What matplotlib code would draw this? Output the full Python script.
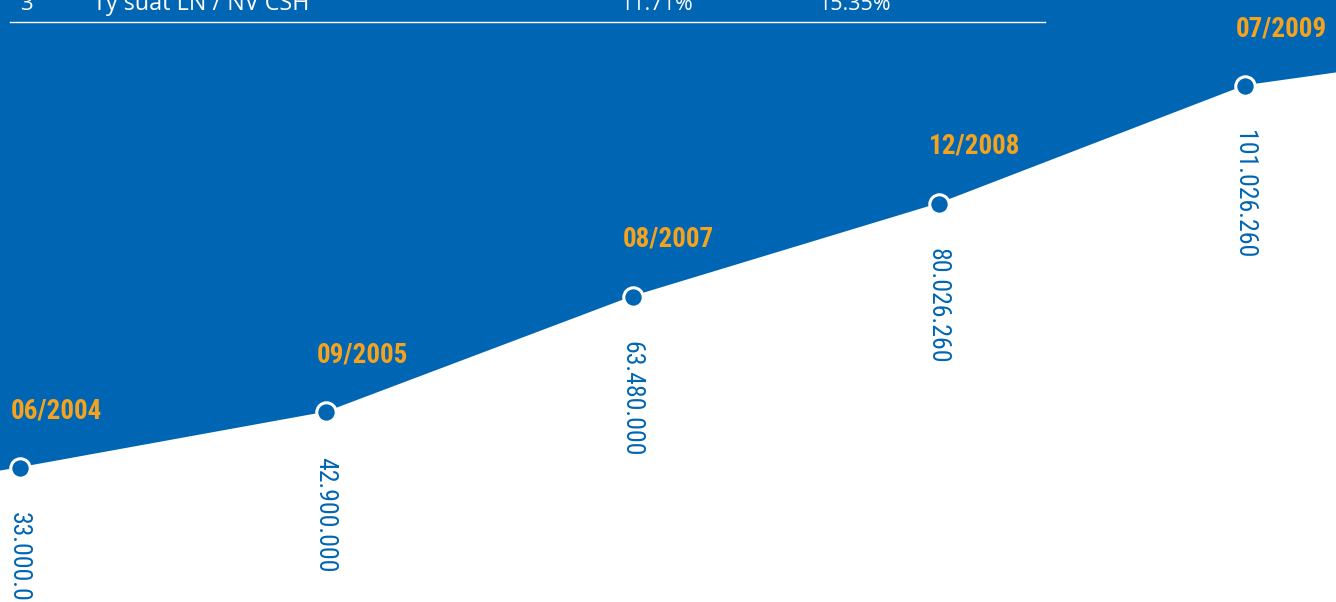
import matplotlib
matplotlib.use("Agg")
import matplotlib.pyplot as plt
from matplotlib import font_manager

# Charter capital milestones (VND)
dates = ["06/2004", "09/2005", "08/2007", "12/2008", "07/2009"]
capital = [33000000, 42900000, 63480000, 80026260, 101026260]
# where the line runs off the left and right edges
edge_values = (32400000, 103300000)

# last row of the table above the chart
table_row = ["3", "Tỷ suất LN / NV CSH", "11.71%", "15.35%"]

BLUE = "#0066B3"
ORANGE = "#F5A31E"

names = {f.name for f in font_manager.fontManager.ttflist}
narrow = next((n for n in ["Roboto Condensed", "Liberation Sans Narrow", "Open Sans Condensed"]
               if n in names), "Liberation Sans")

W, H = 1336, 602
fig = plt.figure(figsize=(W / 100, H / 100), dpi=100)
ax = fig.add_axes([0, 0, 1, 1])
ax.set_axis_off()

x = list(range(len(capital)))
x0, x1 = -0.0653, 4.297
ax.set_xlim(x0, x1)
ax.set_ylim(9.14e6, 116.35e6)

line_x = [x0] + x + [x1]
line_y = [edge_values[0]] + capital + [edge_values[1]]
ax.fill_between(line_x, line_y, 200e6, color=BLUE, lw=0, zorder=1)
ax.plot(line_x, line_y, color="white", lw=1.2, zorder=2)
ax.plot(x, capital, "o", ms=14, mfc=BLUE, mec="white", mew=2.2, zorder=3)

for xi, v, d in zip(x, capital, dates):
    ax.annotate(d, (xi, v), xytext=(-7, 36), textcoords="offset points",
                ha="left", va="baseline", color=ORANGE, fontsize=19.5,
                fontweight="bold", family=narrow, zorder=4)
    lbl = f"{v:,}".replace(",", ".")
    ax.annotate(lbl, (xi, v), xytext=(-1, -32), textcoords="offset points",
                ha="center", va="top", rotation=-90, color=BLUE, fontsize=18.5,
                family=narrow, zorder=4)

# table fragment at the top
ty = 1 - 10 / H
for txt, px, fs in zip(table_row, [20, 93, 620, 818], [16, 16.8, 15.5, 15.5]):
    fig.text(px / W, ty, txt, color="white", fontsize=fs, family="Open Sans",
             ha="left", va="baseline")
fig.add_artist(plt.Line2D([10 / W, 1045 / W], [1 - 21.5 / H] * 2,
                          color="white", lw=1.0, transform=fig.transFigure))

fig.savefig("out.png", dpi=100)
